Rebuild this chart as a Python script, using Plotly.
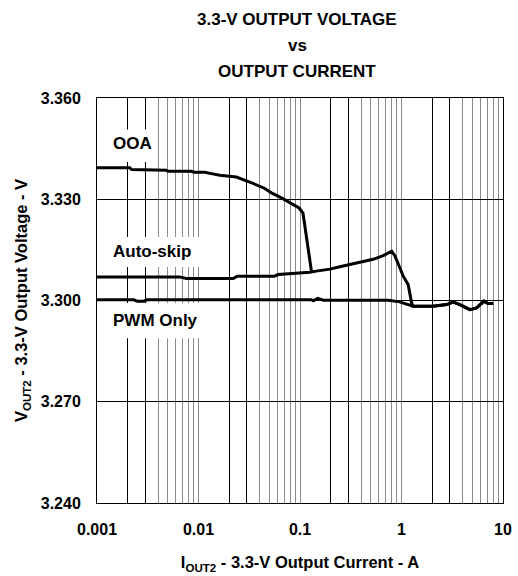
import plotly.graph_objects as go

# Output current (A) and output voltage (V) for each operating mode
ooa_current = [0.001, 0.0021, 0.0022, 0.0048, 0.005, 0.0085, 0.009, 0.0115, 0.0134,
               0.0162, 0.0236, 0.0284, 0.0345, 0.045, 0.0523, 0.0657, 0.079, 0.098,
               0.107, 0.116, 0.125, 0.130]
ooa_voltage = [3.3393, 3.3393, 3.3388, 3.3386, 3.3383, 3.3383, 3.3380, 3.3380, 3.3376,
               3.3371, 3.3366, 3.3357, 3.3347, 3.3332, 3.3319, 3.3304, 3.3289, 3.3274,
               3.3259, 3.3190, 3.3112, 3.3084]

autoskip_current = [0.001, 0.0065, 0.0076, 0.022, 0.024, 0.056, 0.061, 0.092, 0.125,
                    0.145, 0.197, 0.247, 0.389, 0.525, 0.661, 0.80, 0.86, 1.04, 1.164,
                    1.256, 1.30, 2.05, 2.78, 3.23, 3.76, 4.72, 5.49, 6.49, 7.15, 8.0]
autoskip_voltage = [3.3070, 3.3070, 3.3065, 3.3065, 3.3072, 3.3072, 3.3077, 3.3080, 3.3084,
                    3.3087, 3.3093, 3.3100, 3.3112, 3.3122, 3.3133, 3.3146, 3.3133, 3.3072,
                    3.3047, 3.2993, 3.2983, 3.2983, 3.2988, 3.2995, 3.2988, 3.2973, 3.2978,
                    3.2998, 3.2991, 3.2991]

pwm_current = [0.001, 0.0023, 0.0025, 0.0029, 0.0031, 0.13, 0.135, 0.15, 0.17, 0.74,
               0.96, 1.25, 1.30, 2.05, 2.78, 3.23, 3.76, 4.72, 5.49, 6.49, 7.15, 8.0]
pwm_voltage = [3.3002, 3.3002, 3.2998, 3.2998, 3.3002, 3.3002, 3.2999, 3.3006, 3.3001,
               3.3001, 3.2996, 3.2983, 3.2983, 3.2983, 3.2988, 3.2995, 3.2988, 3.2973,
               3.2978, 3.2998, 3.2991, 3.2991]

# Axis ticks
decade_ticks = [0.001, 0.01, 0.1, 1, 10]
decade_labels = ["0.001", "0.01", "0.1", "1", "10"]
dark_grid_ticks = [0.002, 0.003, 0.02, 0.03, 0.2, 0.3, 2, 3]
light_grid_ticks = [m * 10.0 ** e for e in range(-3, 1) for m in (4, 5, 6, 7, 8, 9)]
voltage_ticks = [3.240, 3.270, 3.300, 3.330, 3.360]

FONT = "Liberation Sans, Arial, sans-serif"
LINE = dict(color="black", width=3)

fig = go.Figure()
fig.add_trace(go.Scatter(x=ooa_current, y=ooa_voltage, mode="lines", line=LINE, name="OOA"))
fig.add_trace(go.Scatter(x=autoskip_current, y=autoskip_voltage, mode="lines", line=LINE,
                         name="Auto-skip"))
fig.add_trace(go.Scatter(x=pwm_current, y=pwm_voltage, mode="lines", line=LINE, name="PWM Only"))
# carrier for the overlay axis that draws the darker 2x / 3x grid lines
fig.add_trace(go.Scatter(x=[], y=[], xaxis="x2", yaxis="y", showlegend=False, hoverinfo="skip"))

label_font = dict(family=FONT, size=17, color="black", weight="bold")
axis_title_font = dict(family=FONT, size=16.5, color="black", weight="bold")

fig.update_layout(
    width=518, height=576,
    margin=dict(l=97, r=15, t=98, b=73),
    paper_bgcolor="white", plot_bgcolor="white",
    showlegend=False,
    font=dict(family=FONT, color="black"),
    xaxis=dict(
        type="log", range=[-3, 1],
        tickmode="array", tickvals=decade_ticks, ticktext=decade_labels,
        ticks="", ticklabelstandoff=12,
        tickfont=dict(family=FONT, size=16, weight="bold"),
        showgrid=True, gridcolor="#8a8a8a", gridwidth=1,
        minor=dict(tickmode="array", tickvals=light_grid_ticks, showgrid=True,
                   gridcolor="#8a8a8a", gridwidth=1, ticks=""),
        showline=True, linecolor="black", linewidth=1, mirror=True,
        zeroline=False, automargin=False,
        title=dict(text="I<sub>OUT2</sub> - 3.3-V Output Current - A",
                   font=axis_title_font, standoff=19),
    ),
    xaxis2=dict(
        type="log", range=[-3, 1], overlaying="x", side="bottom",
        tickmode="array", tickvals=dark_grid_ticks, showticklabels=False, ticks="",
        showgrid=True, gridcolor="black", gridwidth=1,
        showline=False, zeroline=False, automargin=False,
    ),
    yaxis=dict(
        range=[3.24, 3.36],
        tickmode="array", tickvals=voltage_ticks, tickformat=".3f",
        ticks="", ticklabelstandoff=12,
        tickfont=dict(family=FONT, size=16, weight="bold"),
        showgrid=True, gridcolor="black", gridwidth=1,
        showline=True, linecolor="black", linewidth=1, mirror=True,
        zeroline=False, automargin=False,
        title=dict(text="V<sub>OUT2</sub> - 3.3-V Output Voltage - V",
                   font=axis_title_font, standoff=8),
    ),
)

# White boxes behind the mode labels
for x1, y0, y1 in [(0.135, 0.842, 0.922), (0.258, 0.583, 0.657), (0.258, 0.407, 0.494)]:
    fig.add_shape(type="rect", xref="x domain", yref="y domain",
                  x0=0.003, x1=x1, y0=y0, y1=y1,
                  fillcolor="white", line=dict(width=0), layer="above")

# Mode labels
for text, ypos in [("OOA", 0.887), ("Auto-skip", 0.620), ("PWM Only", 0.450)]:
    fig.add_annotation(text=text, xref="x domain", yref="y domain", x=0.034, y=ypos,
                       xanchor="left", yanchor="middle", showarrow=False, font=label_font)

# Chart heading
title_font = dict(family=FONT, size=17, color="black", weight="bold")
for text, ypos in [("3.3-V OUTPUT VOLTAGE", 1.193), ("vs", 1.130), ("OUTPUT CURRENT", 1.065)]:
    fig.add_annotation(text=text, xref="paper", yref="paper", x=0.5, y=ypos, xshift=-3,
                       xanchor="center", yanchor="middle", showarrow=False, font=title_font)

fig.write_html("out.html")
